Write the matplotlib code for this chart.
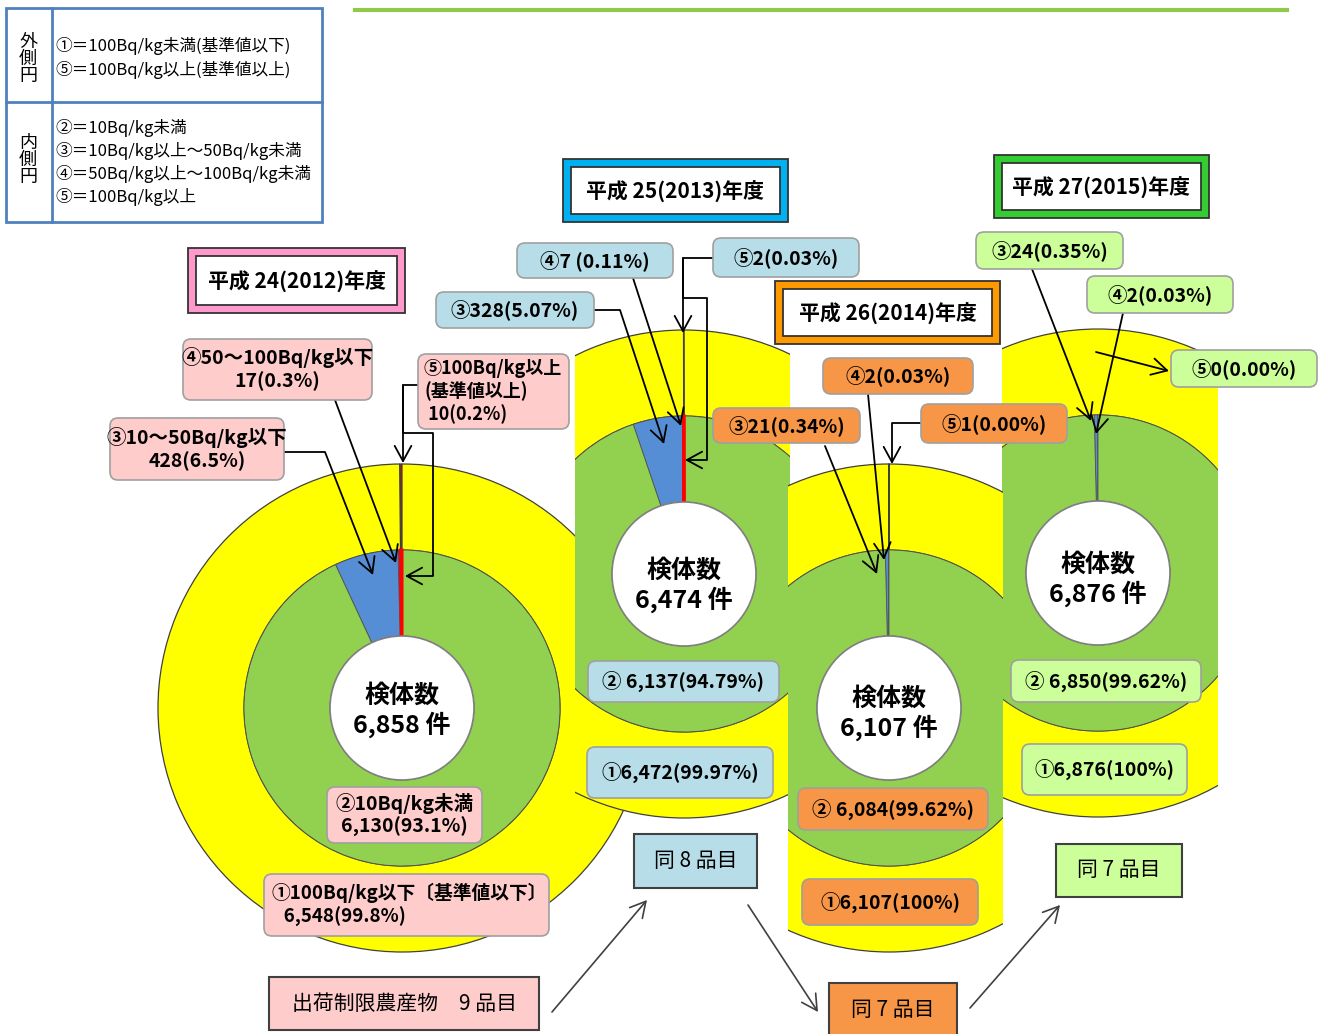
import matplotlib
matplotlib.use("Agg")
import matplotlib.pyplot as plt
from matplotlib.patches import Rectangle, FancyBboxPatch, Circle

plt.rcParams['font.family'] = ['Noto Sans CJK JP', 'DejaVu Sans']

W, H = 1327, 1034

# -------------------------------------------------------
# DATOS
# -------------------------------------------------------
years = ['平成 24(2012)年度', '平成 25(2013)年度', '平成 26(2014)年度', '平成 27(2015)年度']
totals = ['6,858', '6,474', '6,107', '6,876']

# círculo interior: ⑤, ④, ③, ②
inner_2012 = [10, 17, 428, 6130]
inner_2013 = [2, 7, 328, 6137]
inner_2014 = [0, 2, 21, 6084]
inner_2015 = [0, 2, 24, 6850]

# círculo exterior: ⑤, ①
outer_2012 = [10, 6548]
outer_2013 = [2, 6472]
outer_2014 = [1, 6107]
outer_2015 = [0, 6876]

items = ['出荷制限農産物　9 品目', '同 8 品目', '同 7 品目', '同 7 品目']

legend_outer = ['①＝100Bq/kg未満(基準値以下)', '⑤＝100Bq/kg以上(基準値以上)']
legend_inner = ['②＝10Bq/kg未満', '③＝10Bq/kg以上～50Bq/kg未満',
                '④＝50Bq/kg以上～100Bq/kg未満', '⑤＝100Bq/kg以上']

inner_colors = ['#FF0000', '#7030A0', '#558ED5', '#92D050']
outer_colors = ['#FF0000', '#FFFF00']
box_colors = ['#FFCCCC', '#B7DEE8', '#F79646', '#CCFF99']
frame_colors = ['#FF99CC', '#00B0F0', '#FF9900', '#33CC33']

R_OUT, R_IN, R_HOLE = 244, 158, 72

fig = plt.figure(figsize=(W / 100, H / 100), dpi=100)


def pixel_axes(x0, x1, z):
    # ejes en coordenadas de píxel; recortan lo que queda fuera de [x0, x1]
    a = fig.add_axes([x0 / W, 0, (x1 - x0) / W, 1])
    a.set_zorder(z)
    a.patch.set_visible(False)
    return a


def fix_axes(a, x0, x1):
    a.set_xlim(x0, x1)
    a.set_ylim(H, 0)
    a.set_aspect('auto')
    a.axis('off')


def donut(x0, x1, z, cx, cy, inner, outer):
    a = pixel_axes(x0, x1, z)
    wo, _ = a.pie(outer, radius=R_OUT, center=(cx, cy), startangle=270, counterclock=False,
                  colors=outer_colors,
                  wedgeprops=dict(width=R_OUT - R_IN, edgecolor='#404040', linewidth=0.9))
    wi, _ = a.pie(inner, radius=R_IN, center=(cx, cy), startangle=270, counterclock=False,
                  colors=inner_colors,
                  wedgeprops=dict(width=R_IN - R_HOLE, edgecolor='#505050', linewidth=0.6))
    if inner[0] > 0:
        wi[0].set_edgecolor('#FF0000')
        wi[0].set_linewidth(2.2)
        wi[0].set_zorder(3)
    for w in list(wo) + list(wi):
        w.set_clip_on(True)
    a.add_patch(Circle((cx, cy), R_HOLE, fc='white', ec='#808080', lw=1.2, zorder=4))
    fix_axes(a, x0, x1)


# -------------------------------------------------------
# GRÁFICOS DE ANILLOS
# -------------------------------------------------------
donut(0, W, 0, 402, 708, inner_2012, outer_2012)
donut(575, 790, 1, 684, 574, inner_2013, outer_2013)
donut(1002, 1218, 1, 1098, 573, inner_2015, outer_2015)
donut(788, 1003, 2, 889, 708, inner_2014, outer_2014)

ax = pixel_axes(0, W, 10)


def box(x0, y0, x1, y1, text, fc, fs=14, weight='bold', rounded=True, ec='#A0A0A0', lw=1.2,
        tx=None, ty=None, ha='center'):
    if rounded:
        p = FancyBboxPatch((x0, y0), x1 - x0, y1 - y0, boxstyle='round,pad=0,rounding_size=8',
                           fc=fc, ec=ec, lw=lw, zorder=5)
    else:
        p = Rectangle((x0, y0), x1 - x0, y1 - y0, fc=fc, ec=ec, lw=lw, zorder=5)
    ax.add_patch(p)
    if tx is None:
        tx = (x0 + x1) / 2
    if ty is None:
        ty = (y0 + y1) / 2
    ax.text(tx, ty, text, ha=ha, va='center', fontsize=fs, fontweight=weight, zorder=6,
            linespacing=1.2, multialignment='left' if ha == 'left' else 'center')


def title_box(x0, y0, x1, y1, text, band):
    ax.add_patch(Rectangle((x0, y0), x1 - x0, y1 - y0, fc=band, ec='#333333', lw=1.3, zorder=5))
    ax.add_patch(Rectangle((x0 + 8, y0 + 8), x1 - x0 - 16, y1 - y0 - 16, fc='white', ec='#333333',
                           lw=1.3, zorder=5))
    ax.text((x0 + x1) / 2, (y0 + y1) / 2 + 1, text, ha='center', va='center', fontsize=15,
            fontweight='bold', zorder=6)


def center_text(cx, cy, total):
    ax.text(cx, cy, '検体数\n' + total + ' 件', ha='center', va='center', fontsize=18,
            fontweight='bold', linespacing=1.15, zorder=6)


def line(pts):
    xs = [p[0] for p in pts]
    ys = [p[1] for p in pts]
    ax.plot(xs, ys, color='black', lw=1.3, zorder=4, solid_capstyle='butt')


def arrow(p0, p1, color='black', lw=1.3):
    ax.annotate('', xy=p1, xytext=p0, zorder=4,
                arrowprops=dict(arrowstyle='->,head_length=0.55,head_width=0.3', color=color,
                                lw=lw, shrinkA=0, shrinkB=0, mutation_scale=20))


center_text(402, 711, totals[0])
center_text(684, 586, totals[1])
center_text(889, 714, totals[2])
center_text(1098, 580, totals[3])

# -------------------------------------------------------
# LEYENDA (tabla arriba a la izquierda)
# -------------------------------------------------------
ax.add_patch(Rectangle((6, 8), 316, 214, fc='white', ec='#4F81BD', lw=2, zorder=5))
ax.plot([6, 322], [102, 102], color='#4F81BD', lw=2, zorder=6)
ax.plot([52, 52], [8, 222], color='#4F81BD', lw=2, zorder=6)
ax.text(28, 59, '外\n側\n円', ha='center', va='center', fontsize=13, linespacing=0.95, zorder=6)
ax.text(28, 160, '内\n側\n円', ha='center', va='center', fontsize=13, linespacing=0.95, zorder=6)
for i, t in enumerate(legend_outer):
    ax.text(55, 46 + i * 24, t, ha='left', va='center', fontsize=12, zorder=6)
for i, t in enumerate(legend_inner):
    ax.text(55, 128 + i * 23, t, ha='left', va='center', fontsize=12, zorder=6)

ax.plot([355, 1287], [10, 10], color='#92C84A', lw=3)

# -------------------------------------------------------
# 2012
# -------------------------------------------------------
title_box(188, 248, 405, 313, years[0], frame_colors[0])
c = box_colors[0]
box(183, 339, 372, 400, '④50～100Bq/kg以下\n17(0.3%)', c)
box(110, 418, 284, 480, '③10～50Bq/kg以下\n428(6.5%)', c)
box(418, 354, 569, 429, '⑤100Bq/kg以上\n(基準値以上)\n 10(0.2%)', c, fs=13, ha='left', tx=424)
box(327, 787, 482, 843, '②10Bq/kg未満\n6,130(93.1%)', c)
box(264, 874, 549, 936, '①100Bq/kg以下〔基準値以下〕\n   6,548(99.8%)', c, fs=13.5,
    ha='left', tx=271)
line([(284, 452), (325, 452)])
arrow((325, 452), (373, 575))
arrow((335, 400), (396, 563))
line([(418, 385), (403, 385), (403, 433), (433, 433), (433, 576)])
arrow((403, 385), (403, 463))
arrow((433, 576), (405, 576))

# -------------------------------------------------------
# 2013
# -------------------------------------------------------
title_box(563, 159, 788, 222, years[1], frame_colors[1])
c = box_colors[1]
box(517, 243, 673, 278, '④7 (0.11%)', c)
box(436, 292, 594, 328, '③328(5.07%)', c)
box(713, 238, 859, 277, '⑤2(0.03%)', c)
box(588, 661, 779, 702, '② 6,137(94.79%)', c)
box(587, 747, 773, 798, '①6,472(99.97%)', c)
line([(594, 310), (620, 310)])
arrow((620, 310), (664, 444))
arrow((633, 278), (681, 426))
line([(713, 258), (683, 258), (683, 298), (707, 298), (707, 460)])
arrow((683, 258), (683, 333))
arrow((707, 460), (685, 460))

# -------------------------------------------------------
# 2014
# -------------------------------------------------------
title_box(775, 281, 1000, 344, years[2], frame_colors[2])
c = box_colors[2]
box(823, 358, 973, 394, '④2(0.03%)', c)
box(713, 408, 860, 443, '③21(0.34%)', c)
box(921, 404, 1067, 443, '⑤1(0.00%)', c)
box(798, 788, 988, 830, '② 6,084(99.62%)', c)
box(802, 879, 978, 925, '①6,107(100%)', c)
arrow((825, 446), (877, 574))
arrow((868, 394), (884, 560))
line([(921, 423), (892, 423)])
arrow((892, 423), (892, 464))

# -------------------------------------------------------
# 2015
# -------------------------------------------------------
title_box(994, 155, 1209, 218, years[3], frame_colors[3])
c = box_colors[3]
box(976, 232, 1123, 269, '③24(0.35%)', c)
box(1087, 276, 1233, 313, '④2(0.03%)', c)
box(1171, 350, 1317, 387, '⑤0(0.00%)', c)
box(1011, 660, 1201, 702, '② 6,850(99.62%)', c)
box(1022, 744, 1187, 795, '①6,876(100%)', c)
arrow((1032, 269), (1091, 421))
arrow((1123, 313), (1096, 434))
arrow((1096, 352), (1169, 371))

# -------------------------------------------------------
# PRODUCTOS CON RESTRICCIÓN
# -------------------------------------------------------
box(269, 977, 539, 1030, items[0], box_colors[0], fs=15, weight='normal', rounded=False,
    ec='#404040', lw=1.5)
box(634, 834, 757, 888, items[1], box_colors[1], fs=15, weight='normal', rounded=False,
    ec='#404040', lw=1.5)
box(829, 983, 957, 1040, items[2], box_colors[2], fs=15, weight='normal', rounded=False,
    ec='#404040', lw=1.5, ty=1010)
box(1056, 844, 1182, 897, items[3], box_colors[3], fs=15, weight='normal', rounded=False,
    ec='#404040', lw=1.5)
arrow((552, 1012), (647, 900), color='#404040', lw=1.2)
arrow((748, 905), (818, 1012), color='#404040', lw=1.2)
arrow((970, 1008), (1060, 905), color='#404040', lw=1.2)

fix_axes(ax, 0, W)

fig.savefig('out.png', dpi=100)
